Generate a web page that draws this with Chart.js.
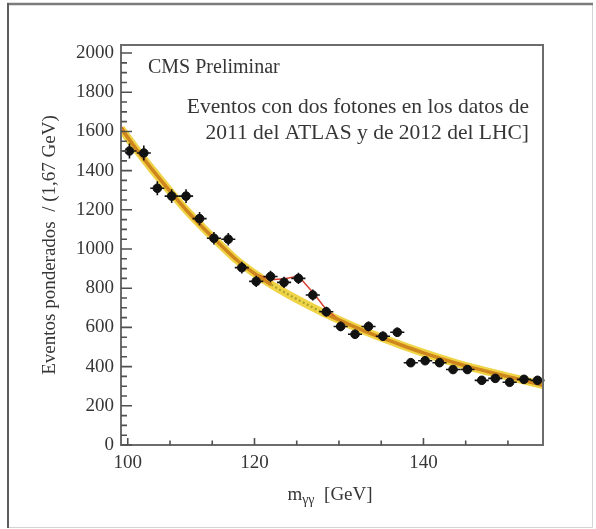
<!DOCTYPE html>
<html>
<head>
<meta charset="utf-8">
<script src="https://cdn.jsdelivr.net/npm/chart.js@4.4.1/dist/chart.umd.min.js"></script>
<style>
  html, body { margin: 0; padding: 0; background: #ffffff; }
  canvas { display: block; }
</style>
</head>
<body>
<canvas id="c" width="596" height="529"></canvas>
<script>
// Diphoton invariant-mass spectrum: weighted events per 1.67 GeV bin
const massBins = [105.2, 106.9, 108.5, 110.2, 111.9, 113.5, 115.2, 116.9, 118.5, 120.2,
                  121.9, 123.5, 125.2, 126.9, 128.5, 130.2, 131.9, 133.5, 135.2, 136.9,
                  138.5, 140.2, 141.9, 143.5, 145.2, 146.9, 148.5, 150.2, 151.9, 153.5];
const weightedEvents = [1500, 1490, 1310, 1270, 1270, 1155, 1055, 1050, 905, 835,
                        860, 830, 850, 765, 680, 605, 565, 605, 555, 575,
                        420, 430, 420, 385, 385, 330, 340, 320, 335, 330];
const eventErrors = [38, 38, 36, 35, 35, 34, 32, 32, 30, 29,
                     29, 29, 29, 28, 26, 25, 24, 25, 24, 24,
                     20, 21, 20, 20, 20, 18, 18, 18, 18, 18];
const binHalfWidth = 0.835;

// Background-only fit
const bkgMass = [104.2, 106, 108, 110, 112, 114, 116, 118, 120, 122, 124, 126, 128,
                 130, 132, 134, 136, 138, 140, 142, 144, 146, 148, 150, 152, 154.15];
const bkgFit = [1615, 1510, 1400, 1295, 1195, 1105, 1020, 940, 875, 818, 768, 722, 678,
                638, 600, 565, 532, 500, 470, 442, 416, 392, 370, 349, 328, 305];
// Window where the background is shown dotted under the signal
const dottedFrom = 122, dottedTo = 128;

// Signal + background fit
const sbMass = [104.2, 106, 108, 110, 112, 114, 116, 118, 120, 121.9, 123.6, 125.2, 127,
                128.5, 130, 132, 136, 140, 144, 148, 152, 154.15];
const sbFit = [1628, 1512, 1400, 1295, 1195, 1105, 1020, 940, 875, 843, 848, 862, 774,
               690, 640, 600, 532, 470, 416, 370, 328, 305];

// Axes
const yTickValues = [0, 200, 400, 600, 800, 1000, 1200, 1400, 1600, 1800, 2000];
const yMinorStep = 50;
const xTickValues = [105, 120, 140];
const xTickLabels = ['100', '120', '140'];
const xMinorTicks = [105, 110, 115, 120, 125, 130, 135, 140, 145, 150];

const SERIF = "'Liberation Serif', 'Times New Roman', serif";
const TEXT = '#363636';

const toPoints = (xs, ys) => xs.map((x, i) => ({ x: x, y: ys[i] }));
const inDotted = ctx => ctx.p0.parsed.x >= dottedFrom && ctx.p1.parsed.x <= dottedTo;

// Vertical and horizontal error bars under the data markers
const errorBars = {
  id: 'errorBars',
  beforeDatasetDraw(chart, args) {
    if (args.index !== 0) return;
    const { ctx, scales: { x, y } } = chart;
    ctx.save();
    ctx.strokeStyle = '#111';
    ctx.lineWidth = 1.6;
    massBins.forEach((m, i) => {
      const px = x.getPixelForValue(m);
      const py = y.getPixelForValue(weightedEvents[i]);
      const yTop = y.getPixelForValue(weightedEvents[i] + eventErrors[i]);
      const yBot = y.getPixelForValue(weightedEvents[i] - eventErrors[i]);
      const xL = x.getPixelForValue(m - binHalfWidth);
      const xR = x.getPixelForValue(m + binHalfWidth);
      ctx.beginPath();
      ctx.moveTo(px, yTop); ctx.lineTo(px, yBot);
      ctx.moveTo(xL, py); ctx.lineTo(xR, py);
      ctx.stroke();
    });
    ctx.restore();
  }
};

// Page frame, plot box, inward ticks, captions
const decorations = {
  id: 'decorations',
  beforeDraw(chart) {
    const { ctx } = chart;
    ctx.save();
    ctx.fillStyle = '#ffffff';
    ctx.fillRect(0, 0, chart.width, chart.height);
    ctx.strokeStyle = '#d4d4d4'; ctx.lineWidth = 1;
    ctx.beginPath();
    ctx.moveTo(592.5, 4); ctx.lineTo(592.5, 527.5);
    ctx.moveTo(8, 527.5); ctx.lineTo(592.5, 527.5);
    ctx.stroke();
    ctx.strokeStyle = '#7c7c7c'; ctx.lineWidth = 2.5;
    ctx.beginPath();
    ctx.moveTo(7, 4); ctx.lineTo(593, 4);
    ctx.stroke();
    ctx.strokeStyle = '#5e5e5e'; ctx.lineWidth = 2;
    ctx.beginPath();
    ctx.moveTo(8, 3); ctx.lineTo(8, 528);
    ctx.stroke();
    ctx.restore();
  },
  afterDraw(chart) {
    const { ctx, chartArea: a, scales: { x, y } } = chart;
    ctx.save();
    ctx.strokeStyle = '#6c6c6c';
    ctx.lineWidth = 2;
    ctx.strokeRect(a.left, a.top, a.right - a.left, a.bottom - a.top);

    ctx.strokeStyle = '#505050';
    ctx.lineWidth = 1.6;
    ctx.beginPath();
    for (let v = 0; v <= yTickValues[yTickValues.length - 1]; v += yMinorStep) {
      const py = y.getPixelForValue(v);
      const len = yTickValues.includes(v) ? 11 : 6;
      ctx.moveTo(a.left, py); ctx.lineTo(a.left + len, py);
    }
    xMinorTicks.forEach(v => {
      const px = x.getPixelForValue(v);
      const len = xTickValues.includes(v) ? 7 : 4.5;
      ctx.moveTo(px, a.bottom); ctx.lineTo(px, a.bottom - len);
    });
    ctx.stroke();

    ctx.fillStyle = TEXT;
    ctx.textBaseline = 'middle';
    ctx.textAlign = 'left';
    ctx.font = '20px ' + SERIF;
    ctx.fillText('CMS Preliminar', a.left + 27, a.top + 23);

    ctx.textAlign = 'right';
    ctx.font = '21.5px ' + SERIF;
    ctx.fillText('Eventos con dos fotones en los datos de', a.right - 14, a.top + 62);
    ctx.fillText('2011 del ATLAS y de 2012 del LHC]', a.right - 14, a.top + 88);

    // x-axis title with subscript
    const cx = (a.left + a.right) / 2 - 2;
    const ty = a.bottom + 50;
    const big = '19px ' + SERIF, small = '14px ' + SERIF;
    ctx.font = big; const wm = ctx.measureText('m').width;
    ctx.font = small; const wg = ctx.measureText('\u03b3\u03b3').width;
    ctx.font = big; const wu = ctx.measureText('  [GeV]').width;
    let sx = cx - (wm + wg + wu) / 2;
    ctx.textAlign = 'left';
    ctx.font = big; ctx.fillText('m', sx, ty); sx += wm;
    ctx.font = small; ctx.fillText('\u03b3\u03b3', sx, ty + 5); sx += wg;
    ctx.font = big; ctx.fillText('  [GeV]', sx, ty);
    ctx.restore();
  }
};

new Chart(document.getElementById('c'), {
  type: 'line',
  data: {
    datasets: [
      {
        label: 'Datos',
        data: toPoints(massBins, weightedEvents),
        showLine: false,
        pointRadius: 4.3,
        pointBackgroundColor: '#111',
        pointBorderColor: '#111',
        order: 0
      },
      {
        label: 'Fondo (bajo la señal)',
        data: toPoints(bkgMass, bkgFit),
        borderColor: '#a9a22c',
        borderWidth: 2.2,
        borderDash: [2, 2.5],
        pointRadius: 0,
        cubicInterpolationMode: 'monotone',
        segment: { borderColor: ctx => inDotted(ctx) ? '#a9a22c' : 'rgba(0,0,0,0)' },
        order: 1
      },
      {
        label: 'Fondo',
        data: toPoints(bkgMass, bkgFit),
        borderColor: '#cf861c',
        borderWidth: 3.5,
        pointRadius: 0,
        cubicInterpolationMode: 'monotone',
        segment: { borderColor: ctx => inDotted(ctx) ? 'rgba(0,0,0,0)' : '#cf861c' },
        order: 2
      },
      {
        label: 'Señal + fondo',
        data: toPoints(sbMass, sbFit),
        borderColor: '#d8402e',
        borderWidth: 1.5,
        pointRadius: 0,
        tension: 0,
        order: 3
      },
      {
        label: 'Banda',
        data: toPoints(bkgMass, bkgFit),
        borderColor: '#f0d448',
        borderWidth: 8,
        pointRadius: 0,
        cubicInterpolationMode: 'monotone',
        order: 4
      }
    ]
  },
  options: {
    responsive: false,
    animation: false,
    devicePixelRatio: 1,
    layout: { padding: { left: 0, right: 53, top: 45, bottom: 0 } },
    plugins: { legend: { display: false }, tooltip: { enabled: false } },
    scales: {
      x: {
        type: 'linear',
        min: 104.2,
        max: 154.15,
        afterBuildTicks: s => { s.ticks = xTickValues.map(v => ({ value: v })); },
        afterFit: s => { s.height = 84; },
        grid: { display: false, drawTicks: false },
        border: { display: false },
        ticks: {
          padding: 7,
          maxRotation: 0,
          autoSkip: false,
          color: TEXT,
          font: { family: SERIF, size: 19 },
          callback: (v, i) => xTickLabels[i]
        }
      },
      y: {
        min: 0,
        max: 2041,
        afterBuildTicks: s => { s.ticks = yTickValues.map(v => ({ value: v })); },
        afterFit: s => { s.width = 121; },
        grid: { display: false, drawTicks: false },
        border: { display: false },
        ticks: {
          padding: 7,
          color: TEXT,
          font: { family: SERIF, size: 19 },
          callback: v => String(v)
        },
        title: {
          display: true,
          text: 'Eventos ponderados  / (1,67 GeV)',
          color: TEXT,
          font: { family: SERIF, size: 19 },
          padding: { top: 39, bottom: 0 }
        }
      }
    }
  },
  plugins: [decorations, errorBars]
});
</script>
</body>
</html>
